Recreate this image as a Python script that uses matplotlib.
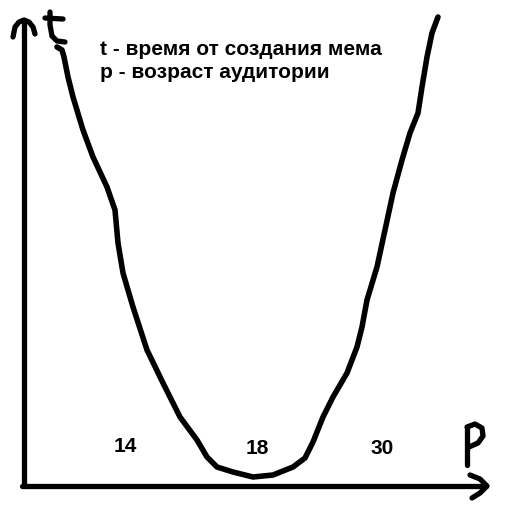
#!/usr/bin/env python3
# -*- coding: utf-8 -*-

# Import libraries
import matplotlib.pyplot as plt

# Hand-drawn curve (pixel space of the 511x512 sketch, y grows downward)
curve_x = [57, 62, 64, 68, 73, 83, 93, 107, 115, 118, 123, 133, 147, 163, 180, 197,
           207, 217, 233, 253, 273, 293, 305, 313, 323, 333, 347, 357, 362, 367, 377,
           385, 393, 402, 410, 418, 422, 427, 432, 438]
curve_y = [47, 50, 57, 77, 97, 130, 157, 187, 210, 243, 273, 307, 350, 383, 417, 440,
           457, 467, 472, 477, 475, 467, 458, 442, 417, 397, 373, 347, 327, 300, 267,
           230, 193, 160, 133, 113, 87, 57, 33, 17]

# Axes strokes
y_axis_x = [24, 24]
y_axis_y = [486, 21]
y_head_x = [13, 15, 19, 24, 29, 33, 35]
y_head_y = [37, 27, 22, 20, 22, 27, 34]
x_axis_x = [22, 486]
x_axis_y = [486, 486]
x_head_x = [470, 480, 487, 480, 472]
x_head_y = [475, 479, 486, 493, 498]

# Hand-written letters
t_stem_x = [50, 50, 52, 57, 65]
t_stem_y = [12, 25, 36, 41, 42]
t_bar_x = [45, 63]
t_bar_y = [18, 19]
p_stem_x = [467, 467]
p_stem_y = [465, 427]
p_bowl_x = [467, 475, 482, 483, 478, 469]
p_bowl_y = [427, 424, 428, 436, 443, 447]

# Labels
legend_lines = ["t - время от создания мема", "p - возраст аудитории"]
legend_y = [55, 78]
age_labels = ["14", "18", "30"]
age_x = [125, 257, 382]
age_y = [446, 448, 448]

fig = plt.figure(figsize=(5.11, 5.12), dpi=100)
ax = fig.add_axes([0, 0, 1, 1])
ax.set_xlim(0, 511)
ax.set_ylim(512, 0)
ax.axis("off")

stroke = dict(color="black", solid_capstyle="round", solid_joinstyle="round")
ax.plot(y_axis_x, y_axis_y, lw=3.8, **stroke)
ax.plot(y_head_x, y_head_y, lw=3.8, **stroke)
ax.plot(x_axis_x, x_axis_y, lw=3.8, **stroke)
ax.plot(x_head_x, x_head_y, lw=3.8, **stroke)
ax.plot(t_stem_x, t_stem_y, lw=3.8, **stroke)
ax.plot(t_bar_x, t_bar_y, lw=3.8, **stroke)
ax.plot(p_stem_x, p_stem_y, lw=3.8, **stroke)
ax.plot(p_bowl_x, p_bowl_y, lw=3.8, **stroke)
ax.plot(curve_x, curve_y, lw=4.0, **stroke)

for line, y in zip(legend_lines, legend_y):
    ax.text(100, y, line, fontsize=15, fontweight="bold",
            family="Liberation Sans", va="baseline", ha="left")

for lab, x, y in zip(age_labels, age_x, age_y):
    ax.text(x, y, lab, fontsize=15, fontweight="bold",
            family="Liberation Sans", va="center", ha="center")

plt.savefig("out.png", dpi=100)
plt.close()
